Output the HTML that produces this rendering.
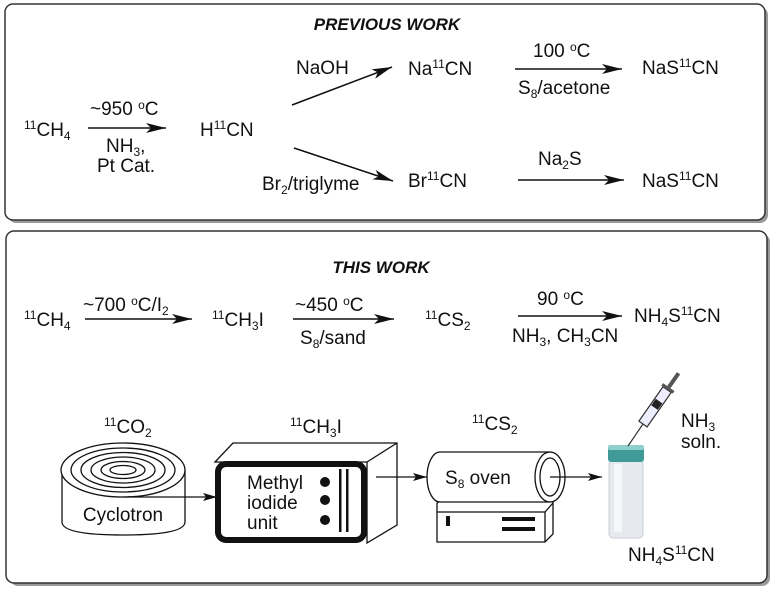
<!DOCTYPE html>
<html><head><meta charset="utf-8"><style>
html,body{margin:0;padding:0;background:#fff;}
svg{display:block;}
text{font-family:"Liberation Sans",Arial,sans-serif;font-size:19px;fill:#111;}
.t{font-weight:bold;font-style:italic;font-size:17px;}
.s{font-size:12px;}
</style></head><body>
<svg width="776" height="593" viewBox="0 0 776 593" xmlns="http://www.w3.org/2000/svg">
<defs>
<marker id="ah" viewBox="0 0 20 10" refX="20" refY="5" markerWidth="20" markerHeight="10" markerUnits="userSpaceOnUse" orient="auto">
<path d="M0,0 L20,5 L0,10 L5,5 Z" fill="#111"/></marker>
<marker id="ah2" viewBox="0 0 14 8" refX="14" refY="4" markerWidth="14" markerHeight="8" markerUnits="userSpaceOnUse" orient="auto">
<path d="M0,0 L14,4 L0,8 L3,4 Z" fill="#111"/></marker>
</defs>
<rect x="8" y="7" width="760" height="216" rx="8" fill="#999"/>
<rect x="5" y="4" width="760" height="216" rx="8" fill="#fff" stroke="#333" stroke-width="1.5"/>
<rect x="10" y="234" width="760" height="352" rx="8" fill="#999"/>
<rect x="6" y="231" width="761" height="352" rx="8" fill="#fff" stroke="#333" stroke-width="1.5"/>

<text class="t" x="387" y="30" text-anchor="middle">PREVIOUS WORK</text>
<text x="24" y="136"><tspan class="s" dy="-7">11</tspan><tspan dy="7">CH</tspan><tspan class="s" dy="4">4</tspan></text>
<line x1="88" y1="128" x2="166" y2="128" stroke="#111" stroke-width="1.5" marker-end="url(#ah)"/>
<text x="90" y="115">~950 <tspan class="s" dy="-6">o</tspan><tspan dy="6">C</tspan></text>
<text x="106" y="152">NH<tspan class="s" dy="4">3</tspan><tspan dy="-4">,</tspan></text>
<text x="97" y="172">Pt Cat.</text>
<text x="200" y="136">H<tspan class="s" dy="-7">11</tspan><tspan dy="7">CN</tspan></text>
<line x1="292" y1="105" x2="392" y2="67" stroke="#111" stroke-width="1.5" marker-end="url(#ah)"/>
<line x1="294" y1="148" x2="393" y2="181" stroke="#111" stroke-width="1.5" marker-end="url(#ah)"/>
<text x="296" y="74">NaOH</text>
<text x="262" y="190">Br<tspan class="s" dy="4">2</tspan><tspan dy="-4">/triglyme</tspan></text>
<text x="408" y="75">Na<tspan class="s" dy="-7">11</tspan><tspan dy="7">CN</tspan></text>
<text x="408" y="187">Br<tspan class="s" dy="-7">11</tspan><tspan dy="7">CN</tspan></text>
<line x1="515" y1="69" x2="622" y2="69" stroke="#111" stroke-width="1.5" marker-end="url(#ah)"/>
<text x="533" y="57">100 <tspan class="s" dy="-6">o</tspan><tspan dy="6">C</tspan></text>
<text x="518" y="94">S<tspan class="s" dy="4">8</tspan><tspan dy="-4">/acetone</tspan></text>
<line x1="518" y1="180" x2="624" y2="180" stroke="#111" stroke-width="1.5" marker-end="url(#ah)"/>
<text x="538" y="165">Na<tspan class="s" dy="4">2</tspan><tspan dy="-4">S</tspan></text>
<text x="642" y="74">NaS<tspan class="s" dy="-7">11</tspan><tspan dy="7">CN</tspan></text>
<text x="642" y="187">NaS<tspan class="s" dy="-7">11</tspan><tspan dy="7">CN</tspan></text>

<text class="t" x="381" y="273" text-anchor="middle">THIS WORK</text>
<text x="24" y="326"><tspan class="s" dy="-7">11</tspan><tspan dy="7">CH</tspan><tspan class="s" dy="4">4</tspan></text>
<line x1="85" y1="319" x2="192" y2="319" stroke="#111" stroke-width="1.5" marker-end="url(#ah)"/>
<text x="83" y="311">~700 <tspan class="s" dy="-6">o</tspan><tspan dy="6">C/I</tspan><tspan class="s" dy="4">2</tspan></text>
<text x="212" y="326"><tspan class="s" dy="-7">11</tspan><tspan dy="7">CH</tspan><tspan class="s" dy="4">3</tspan><tspan dy="-4">I</tspan></text>
<line x1="293" y1="319" x2="394" y2="319" stroke="#111" stroke-width="1.5" marker-end="url(#ah)"/>
<text x="295" y="311">~450 <tspan class="s" dy="-6">o</tspan><tspan dy="6">C</tspan></text>
<text x="300" y="344">S<tspan class="s" dy="4">8</tspan><tspan dy="-4">/sand</tspan></text>
<text x="425" y="326"><tspan class="s" dy="-7">11</tspan><tspan dy="7">CS</tspan><tspan class="s" dy="4">2</tspan></text>
<line x1="518" y1="316" x2="622" y2="316" stroke="#111" stroke-width="1.5" marker-end="url(#ah)"/>
<text x="537" y="305">90 <tspan class="s" dy="-6">o</tspan><tspan dy="6">C</tspan></text>
<text x="512" y="342">NH<tspan class="s" dy="4">3</tspan><tspan dy="-4">, CH</tspan><tspan class="s" dy="4">3</tspan><tspan dy="-4">CN</tspan></text>
<text x="634" y="322">NH<tspan class="s" dy="4">4</tspan><tspan dy="-4">S</tspan><tspan class="s" dy="-7">11</tspan><tspan dy="7">CN</tspan></text>

<text x="104" y="433"><tspan class="s" dy="-7">11</tspan><tspan dy="7">CO</tspan><tspan class="s" dy="4">2</tspan></text>
<text x="290" y="433"><tspan class="s" dy="-7">11</tspan><tspan dy="7">CH</tspan><tspan class="s" dy="4">3</tspan><tspan dy="-4">I</tspan></text>
<text x="472" y="430"><tspan class="s" dy="-7">11</tspan><tspan dy="7">CS</tspan><tspan class="s" dy="4">2</tspan></text>

<g stroke="#111" stroke-width="1.3" fill="#fff">
<path d="M62,470 L62,522 Q62,535 123,535 Q185,535 185,522 L185,470"/>
<ellipse cx="123" cy="470" rx="62" ry="27"/>
<ellipse cx="123" cy="470" rx="52" ry="22" fill="none"/>
<ellipse cx="123" cy="470" rx="42" ry="17.5" fill="none"/>
<ellipse cx="123" cy="470" rx="32" ry="13" fill="none"/>
<ellipse cx="123" cy="470" rx="22" ry="8.5" fill="none"/>
<ellipse cx="123" cy="470" rx="13" ry="4.5" fill="none"/>
</g>
<text x="123" y="521" text-anchor="middle">Cyclotron</text>
<line x1="123" y1="497" x2="217" y2="497" stroke="#111" stroke-width="1.3" marker-end="url(#ah2)"/>

<g stroke="#111" stroke-width="1.3" fill="#fff">
<path d="M215,462 L233,443 L397,443 L397,525 L367,543 L367,462 Z"/>
<line x1="367" y1="462" x2="397" y2="443"/>
<rect x="218" y="464" width="146" height="76" rx="8" stroke-width="6"/>
</g>
<text x="247" y="489">Methyl</text>
<text x="247" y="509">iodide</text>
<text x="247" y="529">unit</text>
<circle cx="325" cy="482" r="5" fill="#111"/>
<circle cx="325" cy="500" r="5" fill="#111"/>
<circle cx="325" cy="520" r="5" fill="#111"/>
<rect x="339" y="469" width="2.5" height="63" fill="#111"/>
<rect x="346" y="469" width="2.5" height="63" fill="#111"/>
<line x1="376" y1="477" x2="427" y2="477" stroke="#111" stroke-width="1.3" marker-end="url(#ah2)"/>

<g stroke="#111" stroke-width="1.3" fill="#fff">
<path d="M437,503 L447,497 L553,497 L553,534 L545,542 L437,542 Z"/>
<line x1="437" y1="512" x2="545" y2="512"/>
<line x1="545" y1="512" x2="553" y2="503"/>
<line x1="545" y1="512" x2="545" y2="542"/>
<path d="M550,452 L440,452 A13,25 0 0 0 440,502 L550,502"/>
<ellipse cx="550" cy="477" rx="15" ry="25"/>
<ellipse cx="550" cy="477" rx="10" ry="19"/>
</g>
<rect x="446" y="516" width="4" height="10" fill="#111"/>
<rect x="502" y="517" width="33" height="4" fill="#111"/>
<rect x="502" y="527" width="33" height="4" fill="#111"/>
<text x="445" y="484">S<tspan class="s" dy="4">8</tspan><tspan dy="-4"> oven</tspan></text>
<line x1="550" y1="477" x2="602" y2="477" stroke="#111" stroke-width="1.3" marker-end="url(#ah2)"/>

<rect x="609" y="460" width="34" height="78" rx="4" fill="#e6e9ee" stroke="#c8ccd2"/>
<rect x="614" y="464" width="8" height="68" fill="#f6f7f9"/>
<rect x="608" y="445" width="36" height="17" rx="3" fill="#3f9a98"/>
<rect x="608" y="445" width="36" height="5" rx="2" fill="#8fcfcd"/>
<line x1="628" y1="446" x2="643" y2="424" stroke="#333" stroke-width="1.2"/>
<g transform="translate(643,424) rotate(-55)">
<rect x="0" y="-5" width="42" height="10" fill="#eef" stroke="#333" stroke-width="1.2"/>
<rect x="20" y="-4" width="8" height="8" fill="#222"/>
<rect x="42" y="-7" width="3" height="14" fill="#555"/>
<line x1="45" y1="0" x2="62" y2="0" stroke="#555" stroke-width="4"/>
</g>
<text x="681" y="427">NH<tspan class="s" dy="4">3</tspan></text>
<text x="681" y="448">soln.</text>
<text x="628" y="561">NH<tspan class="s" dy="4">4</tspan><tspan dy="-4">S</tspan><tspan class="s" dy="-7">11</tspan><tspan dy="7">CN</tspan></text>
</svg>
</body></html>
